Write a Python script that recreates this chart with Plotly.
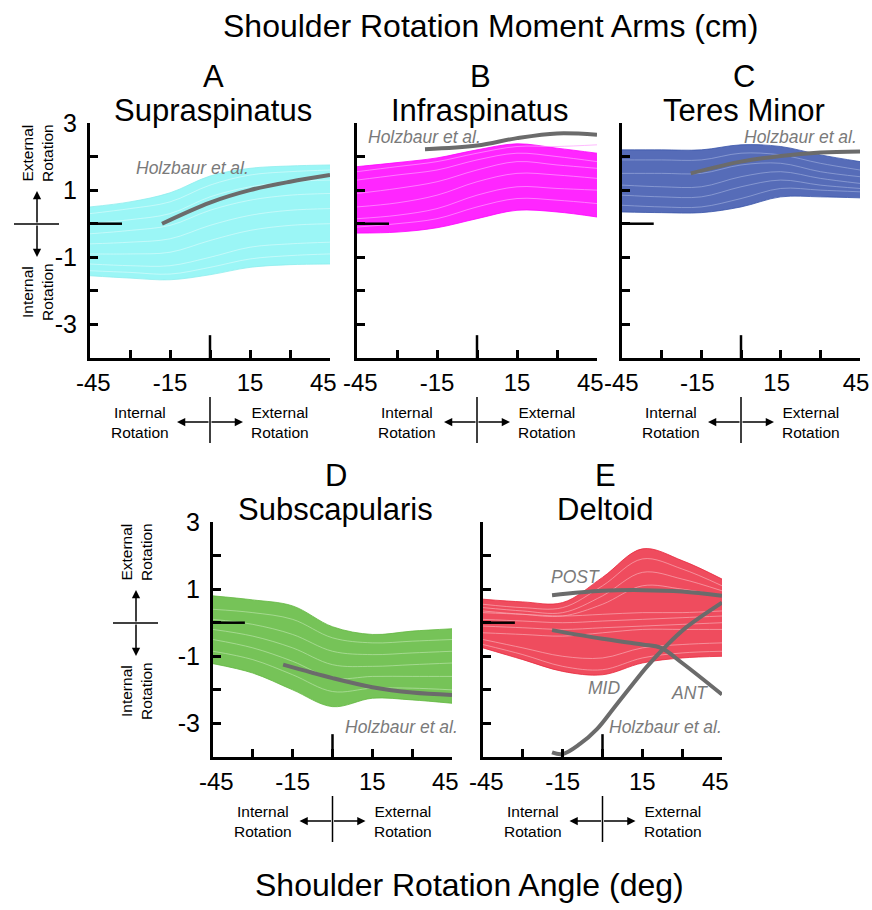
import plotly.graph_objects as go

W, H = 872, 910
ANGLES = [-45, -30, -15, 0, 15, 30, 45]

# ---------------- A: Supraspinatus ----------------
SUPRA_UPPER = [0.50, 0.65, 0.92, 1.42, 1.65, 1.72, 1.75]
SUPRA_LOWER = [-1.55, -1.62, -1.67, -1.52, -1.30, -1.22, -1.20]
SUPRA_CURVES = [
    [0.30, 0.45, 0.65, 1.15, 1.45, 1.55, 1.60],
    [0.00, 0.12, 0.30, 0.80, 1.10, 1.25, 1.30],
    [-0.30, -0.20, -0.05, 0.40, 0.70, 0.85, 0.90],
    [-0.60, -0.55, -0.45, -0.05, 0.25, 0.40, 0.45],
    [-0.90, -0.90, -0.85, -0.50, -0.20, -0.05, 0.00],
    [-1.20, -1.25, -1.25, -1.00, -0.70, -0.60, -0.55],
    [-1.40, -1.45, -1.50, -1.30, -1.05, -0.95, -0.90],
]
SUPRA_HOLZ_X = [-18, 0, 15, 30, 45]
SUPRA_HOLZ_Y = [0.00, 0.63, 1.00, 1.25, 1.45]

# ---------------- B: Infraspinatus ----------------
INFRA_UPPER = [1.70, 1.82, 1.96, 2.20, 2.38, 2.25, 2.10]
INFRA_LOWER = [-0.28, -0.25, -0.12, 0.15, 0.40, 0.35, 0.20]
INFRA_CURVES = [
    [1.55, 1.70, 1.85, 2.10, 2.30, 2.30, 2.35],
    [1.30, 1.45, 1.60, 1.90, 2.10, 2.00, 1.85],
    [0.90, 1.05, 1.25, 1.60, 1.85, 1.75, 1.65],
    [0.50, 0.62, 0.85, 1.25, 1.50, 1.45, 1.35],
    [0.15, 0.25, 0.45, 0.85, 1.10, 1.05, 1.00],
    [-0.10, 0.00, 0.15, 0.50, 0.75, 0.70, 0.60],
]
INFRA_HOLZ_X = [-19.5, 0, 15, 30, 45]
INFRA_HOLZ_Y = [2.22, 2.33, 2.55, 2.69, 2.65]

# ---------------- C: Teres Minor ----------------
TERES_UPPER = [2.20, 2.20, 2.20, 2.35, 2.30, 2.05, 1.85]
TERES_LOWER = [0.35, 0.33, 0.33, 0.50, 0.80, 0.80, 0.77]
TERES_CURVES = [
    [1.90, 1.90, 1.90, 2.10, 2.05, 1.80, 1.60],
    [1.50, 1.50, 1.50, 1.75, 1.80, 1.55, 1.40],
    [1.15, 1.10, 1.10, 1.40, 1.55, 1.35, 1.20],
    [0.85, 0.80, 0.80, 1.10, 1.30, 1.15, 1.05],
    [0.55, 0.50, 0.50, 0.75, 1.05, 1.00, 0.95],
]
TERES_HOLZ_X = [-19, 0, 15, 30, 45]
TERES_HOLZ_Y = [1.50, 1.85, 2.02, 2.12, 2.15]

# ---------------- D: Subscapularis ----------------
SUBSC_UPPER = [0.80, 0.68, 0.50, -0.12, -0.35, -0.25, -0.18]
SUBSC_LOWER = [-1.22, -1.50, -2.00, -2.50, -2.25, -2.30, -2.40]
SUBSC_CURVES = [
    [0.40, 0.30, 0.10, -0.45, -0.60, -0.55, -0.50],
    [0.10, -0.05, -0.35, -0.85, -0.95, -0.90, -0.85],
    [-0.20, -0.40, -0.75, -1.25, -1.30, -1.25, -1.20],
    [-0.50, -0.75, -1.15, -1.65, -1.60, -1.60, -1.60],
    [-0.85, -1.10, -1.55, -2.05, -1.95, -1.95, -2.00],
]
SUBSC_HOLZ_X = [-18.6, 0, 15, 30, 45]
SUBSC_HOLZ_Y = [-1.25, -1.65, -1.92, -2.08, -2.15]

# ---------------- E: Deltoid ----------------
DELT_UPPER = [0.70, 0.62, 0.60, 1.35, 2.20, 1.85, 1.30]
DELT_LOWER = [-0.75, -1.10, -1.45, -1.55, -1.20, -1.05, -1.00]
DELT_CURVES = [
    [0.55, 0.45, 0.45, 1.10, 1.90, 1.60, 1.10],
    [0.45, 0.35, 0.30, 0.80, 1.50, 1.30, 0.95],
    [0.35, 0.25, 0.20, 0.55, 1.10, 1.00, 0.80],
    [0.30, 0.25, 0.20, 0.25, 0.30, 0.30, 0.35],
    [0.10, 0.05, 0.00, 0.05, 0.10, 0.15, 0.20],
    [-0.10, -0.15, -0.20, -0.15, -0.10, -0.05, 0.00],
    [-0.30, -0.35, -0.40, -0.30, -0.20, -0.20, -0.20],
    [-0.50, -0.75, -1.00, -1.05, -0.75, -0.65, -0.60],
    [-0.65, -0.95, -1.30, -1.40, -1.05, -0.90, -0.85],
]
DELT_POST_X = [-19, 0, 15, 30, 45]
DELT_POST_Y = [0.82, 0.95, 0.97, 0.93, 0.80]
DELT_ANT_X = [-19, 0, 15, 22, 30, 45]
DELT_ANT_Y = [-0.22, -0.48, -0.65, -0.75, -1.20, -2.14]
DELT_MID_X = [-19, -15, -8.5, -2, 4, 10, 16.5, 23.5, 31.5, 45]
DELT_MID_Y = [-3.86, -3.91, -3.61, -3.16, -2.57, -1.97, -1.33, -0.73, -0.14, 0.60]

Y_TICKS = [-3, -2, -1, 0, 1, 2, 3]
Y_TICKTEXT = ["-3", "", "-1", "", "1", "", "3"]
X_TICKS = [-45, -30, -15, 0, 15, 30, 45]
X_TICKTEXT = ["\u00a0-45", "", "-15", "", "15", "", "45\u00a0\u00a0"]
X_TICKTEXT_EDGE = ["\u00a0-45", "", "-15", "", "15", "", "45"]

HOLZ_COLOR = "#6b6b6b"
FONT = "Liberation Sans, Arial, sans-serif"


def px(x):
    return x / W


def py(y):
    return 1 - y / H


# panel boxes in pixels: (left, right, top, bottom)
panels = [
    dict(name="Supraspinatus", letter="A", box=(90, 330, 123, 358), upper=SUPRA_UPPER, lower=SUPRA_LOWER,
         curves=SUPRA_CURVES, edge="#8eeeee", fill="rgba(150,245,245,0.95)", streak="#d6fbfb",
         ylabels=True, left_cross=True),
    dict(name="Infraspinatus", letter="B", box=(357, 597, 123, 358), upper=INFRA_UPPER, lower=INFRA_LOWER,
         curves=INFRA_CURVES, edge="#ff00ff", fill="rgba(255,20,255,0.92)", streak="#ff9cff",
         ylabels=False, left_cross=False),
    dict(name="Teres Minor", letter="C", box=(622, 860, 123, 358), upper=TERES_UPPER, lower=TERES_LOWER,
         curves=TERES_CURVES, edge="#3a55aa", fill="rgba(68,92,176,0.9)", streak="#9aa9da",
         ylabels=False, left_cross=False),
    dict(name="Subscapularis", letter="D", box=(213, 452, 522, 757), upper=SUBSC_UPPER, lower=SUBSC_LOWER,
         curves=SUBSC_CURVES, edge="#62b840", fill="rgba(106,190,74,0.92)", streak="#b8e2a6",
         ylabels=True, left_cross=True),
    dict(name="Deltoid", letter="E", box=(483, 722, 522, 757), upper=DELT_UPPER, lower=DELT_LOWER,
         curves=DELT_CURVES, edge="#e8283c", fill="rgba(236,45,66,0.85)", streak="#f8aab3",
         ylabels=False, left_cross=False),
]

holz = [
    [(SUPRA_HOLZ_X, SUPRA_HOLZ_Y)],
    [(INFRA_HOLZ_X, INFRA_HOLZ_Y)],
    [(TERES_HOLZ_X, TERES_HOLZ_Y)],
    [(SUBSC_HOLZ_X, SUBSC_HOLZ_Y)],
    [(DELT_POST_X, DELT_POST_Y), (DELT_ANT_X, DELT_ANT_Y), (DELT_MID_X, DELT_MID_Y)],
]

fig = go.Figure()
layout = dict(width=W, height=H, margin=dict(l=0, r=0, t=0, b=0, autoexpand=False), autosize=False,
              paper_bgcolor="white", plot_bgcolor="white", showlegend=False,
              font=dict(family=FONT, color="black"))
shapes = []
annotations = []
SMALL = 15.5

for i, p in enumerate(panels, start=1):
    xa, ya = f"x{i}", f"y{i}"
    l, r, t, b = p["box"]
    # band of individual curves
    fig.add_trace(go.Scatter(x=ANGLES, y=p["lower"], mode="lines", xaxis=xa, yaxis=ya,
                             line=dict(color=p["edge"], width=0.8, shape="spline"), hoverinfo="skip"))
    fig.add_trace(go.Scatter(x=ANGLES, y=p["upper"], mode="lines", xaxis=xa, yaxis=ya, fill="tonexty",
                             fillcolor=p["fill"], line=dict(color=p["edge"], width=0.8, shape="spline"),
                             hoverinfo="skip"))
    for c in p["curves"]:
        fig.add_trace(go.Scatter(x=ANGLES, y=c, mode="lines", xaxis=xa, yaxis=ya,
                                 line=dict(color=p["streak"], width=0.7, shape="spline"), hoverinfo="skip"))
    for hx, hy in holz[i - 1]:
        fig.add_trace(go.Scatter(x=hx, y=hy, mode="lines", xaxis=xa, yaxis=ya,
                                 line=dict(color=HOLZ_COLOR, width=4, shape="spline"), hoverinfo="skip"))

    edge_panel = (i == 3)
    layout[f"xaxis{i}"] = dict(domain=[px(l), px(r)], range=[-45, 45], anchor=ya, showgrid=False,
                               zeroline=False, showline=True, linecolor="black", linewidth=3,
                               ticks="inside", ticklen=8, tickwidth=2.5, tickcolor="black",
                               tickvals=X_TICKS, ticktext=X_TICKTEXT_EDGE if edge_panel else X_TICKTEXT,
                               tickfont=dict(size=24, family=FONT), ticklabelstandoff=1,
                               ticklabelshift=-4 if edge_panel else 0,
                               automargin=False, ticklabeloverflow="allow")
    layout[f"yaxis{i}"] = dict(domain=[py(b), py(t)], range=[-4, 3], anchor=xa, showgrid=False,
                               zeroline=False, showline=True, linecolor="black", linewidth=3,
                               ticks="inside", ticklen=8, tickwidth=2.5, tickcolor="black",
                               tickvals=Y_TICKS, ticktext=Y_TICKTEXT, showticklabels=p["ylabels"],
                               tickfont=dict(size=25, family=FONT), ticklabelstandoff=5, automargin=False,
                               ticklabeloverflow="allow")
    # long zero ticks
    shapes.append(dict(type="line", xref=xa, yref=ya, x0=-45, x1=-33, y0=0, y1=0,
                       line=dict(color="black", width=2.5)))
    shapes.append(dict(type="line", xref=xa, yref=ya, x0=0, x1=0, y0=-4, y1=-3.32,
                       line=dict(color="black", width=2.5)))

    # titles
    cx = (l + r) / 2
    annotations.append(dict(text=p["letter"], x=px(cx + 3), y=py(t - 47), xref="paper", yref="paper",
                            showarrow=False, font=dict(size=31, family=FONT), xanchor="center", yanchor="middle"))
    annotations.append(dict(text=p["name"], x=px(cx + 3), y=py(t - 13), xref="paper", yref="paper",
                            showarrow=False, font=dict(size=31, family=FONT), xanchor="center", yanchor="middle"))

    # bottom cross with arrows
    zx = l + (r - l) / 2
    ay_ = b + 64
    shapes.append(dict(type="line", xref="paper", yref="paper", x0=px(zx), x1=px(zx),
                       y0=py(b + 39), y1=py(b + 85), line=dict(color="black", width=1.5)))
    for d in (-33, 33):
        annotations.append(dict(text="", x=px(zx + d), y=py(ay_), xref="paper", yref="paper",
                                ax=-d, ay=0, axref="pixel", ayref="pixel", showarrow=True, arrowhead=2,
                                arrowsize=1.1, arrowwidth=1.5, arrowcolor="black"))
    annotations.append(dict(text="Internal<br>Rotation", x=px(zx - 70), y=py(ay_), xref="paper", yref="paper",
                            showarrow=False, font=dict(size=SMALL, family=FONT), xanchor="center",
                            yanchor="middle"))
    annotations.append(dict(text="External<br>Rotation", x=px(zx + 70), y=py(ay_), xref="paper", yref="paper",
                            showarrow=False, font=dict(size=SMALL, family=FONT), xanchor="center",
                            yanchor="middle"))

    # left cross
    if p["left_cross"]:
        zy = t + 101
        lx = l - 53 if i == 1 else l - 77
        shapes.append(dict(type="line", xref="paper", yref="paper", x0=px(lx - 23), x1=px(lx + 22),
                           y0=py(zy), y1=py(zy), line=dict(color="black", width=1.5)))
        for d in (-33, 33):
            annotations.append(dict(text="", x=px(lx), y=py(zy + d), xref="paper", yref="paper",
                                    ax=0, ay=-d, axref="pixel", ayref="pixel", showarrow=True, arrowhead=2,
                                    arrowsize=1.1, arrowwidth=1.5, arrowcolor="black"))
        annotations.append(dict(text="External<br>Rotation", x=px(lx), y=py(zy - 71), xref="paper",
                                yref="paper", showarrow=False, textangle=-90,
                                font=dict(size=SMALL, family=FONT), xanchor="center", yanchor="middle"))
        annotations.append(dict(text="Internal<br>Rotation", x=px(lx), y=py(zy + 68), xref="paper",
                                yref="paper", showarrow=False, textangle=-90,
                                font=dict(size=SMALL, family=FONT), xanchor="center", yanchor="middle"))

# Holzbaur labels
holz_labels = [
    ("Holzbaur et al.", 192, 168), ("Holzbaur et al.", 424, 137), ("Holzbaur et al.", 800, 137),
    ("Holzbaur et al.", 401, 727), ("Holzbaur et al.", 665, 727),
    ("POST", 575, 577), ("MID", 604, 688), ("ANT", 689, 693),
]
for txt, x, y in holz_labels:
    annotations.append(dict(text=f"<i>{txt}</i>", x=px(x), y=py(y), xref="paper", yref="paper",
                            showarrow=False, font=dict(size=17.5, family=FONT, color="#7a7a7a"),
                            xanchor="center", yanchor="middle"))

annotations.append(dict(text="Shoulder Rotation Moment Arms (cm)", x=px(490), y=py(26), xref="paper",
                        yref="paper", showarrow=False, font=dict(size=32, family=FONT),
                        xanchor="center", yanchor="middle"))
annotations.append(dict(text="Shoulder Rotation Angle (deg)", x=px(469), y=py(885), xref="paper",
                        yref="paper", showarrow=False, font=dict(size=32, family=FONT),
                        xanchor="center", yanchor="middle"))

layout["shapes"] = shapes
layout["annotations"] = annotations
fig.update_layout(**layout)
fig.write_html("out.html", config={"displayModeBar": False},
               post_script="document.body.style.margin='0px';")
